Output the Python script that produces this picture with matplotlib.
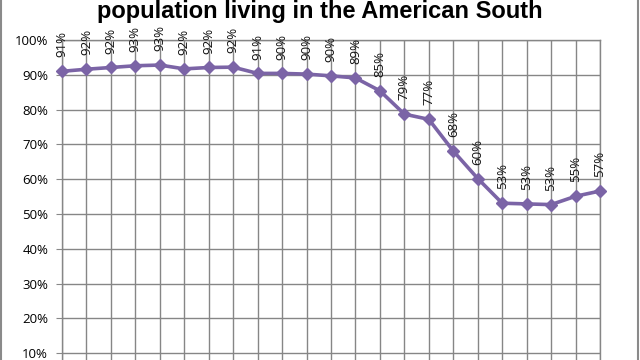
import matplotlib.pyplot as plt
from matplotlib.patches import Rectangle
from matplotlib.ticker import FuncFormatter

plt.rcParams['font.family'] = ['Open Sans', 'DejaVu Sans']

# share of the black population living in the South, one point per census
share = [91.0, 91.6, 92.1, 92.6, 92.8, 91.7, 92.1, 92.2, 90.4, 90.4, 90.2, 89.7,
         89.1, 85.4, 78.7, 77.2, 68.1, 60.2, 53.1, 52.9, 52.7, 55.1, 56.6]
labels = ['91%', '92%', '92%', '93%', '93%', '92%', '92%', '92%', '91%', '90%',
          '90%', '90%', '89%', '85%', '79%', '77%', '68%', '60%', '53%', '53%',
          '53%', '55%', '57%']
x = list(range(len(share)))
yticks = [10, 20, 30, 40, 50, 60, 70, 80, 90, 100]

fig = plt.figure(figsize=(6.4, 3.6), dpi=100)
ax = fig.add_axes([62 / 640, -28 / 360, 538 / 640, 348 / 360])

ax.plot(x, share, color='#7b64a6', linewidth=2.6, marker='D', markersize=6.5,
        zorder=3, clip_on=False)

for xi, yi, lab in zip(x, share, labels):
    ax.annotate(lab, xy=(xi, yi), xytext=(0, 10), textcoords='offset points',
                rotation=90, ha='center', va='bottom', fontsize=9.5,
                color='#111111', annotation_clip=False)

ax.set_xlim(0, len(share) - 1)
ax.set_ylim(0, 100)
ax.set_yticks(yticks)
ax.yaxis.set_major_formatter(FuncFormatter(lambda v, p: f'{v:.0f}%'))
ax.set_xticks(x)
ax.tick_params(axis='y', length=4, color='#888888', labelsize=9.5, pad=6)
ax.tick_params(axis='x', length=0, labelbottom=False)
ax.grid(True, color='#868686', linewidth=1.0)
for s in ax.spines.values():
    s.set_color('#868686')
    s.set_linewidth(1.0)
ax.set_axisbelow(True)

fig.text(0.5, 1.0 - 18 / 360, 'population living in the American South',
         ha='center', va='baseline', fontsize=17, fontweight='bold',
         family=['Liberation Sans', 'DejaVu Sans'])

fig.patches.append(Rectangle((0.002, -0.1), 0.995, 1.2, transform=fig.transFigure,
                             fill=False, edgecolor='#8a8a8a', linewidth=1.5))

fig.savefig('out.png', dpi=100)
